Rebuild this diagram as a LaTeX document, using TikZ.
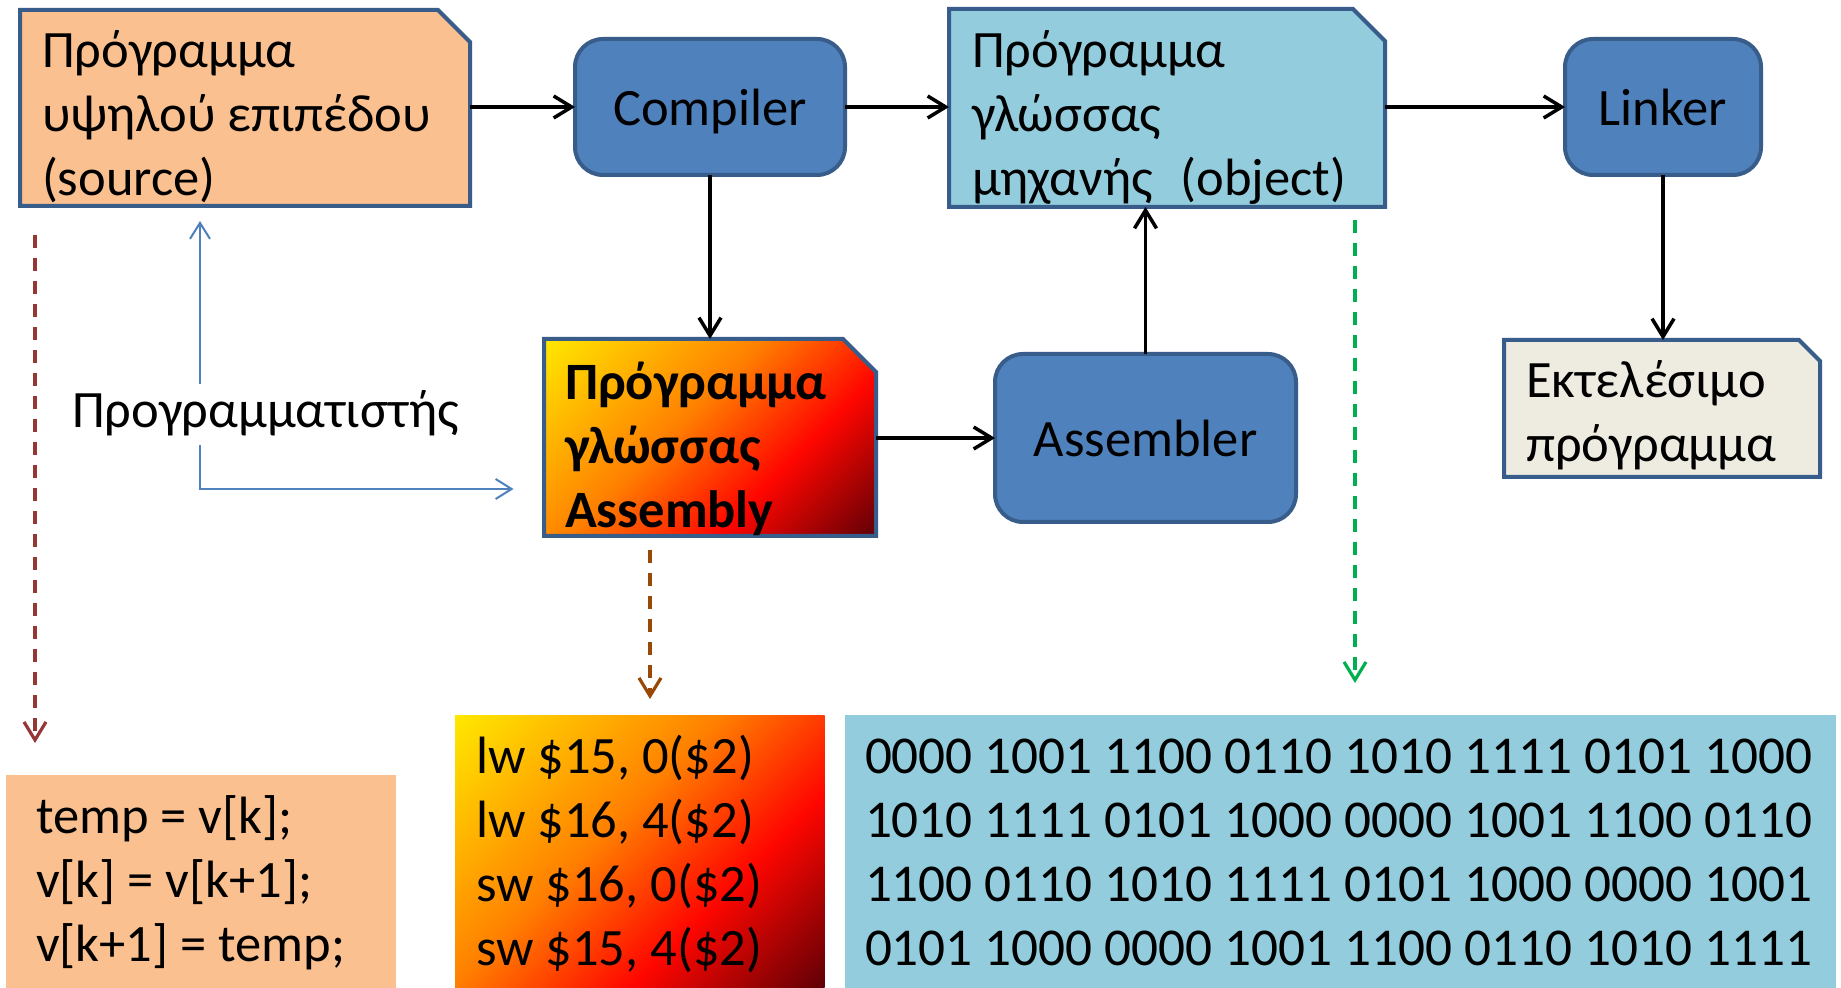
\documentclass[tikz,border=0pt]{standalone}
\usepackage{fontspec}
\setmainfont{Carlito}
\usetikzlibrary{arrows.meta}

% palette
\definecolor{boxline}{RGB}{56,93,138}
\definecolor{srcfill}{RGB}{250,192,143}
\definecolor{procfill}{RGB}{79,129,189}
\definecolor{objfill}{RGB}{147,205,221}
\definecolor{exefill}{RGB}{238,236,225}
\definecolor{hintblue}{RGB}{79,129,189}
\definecolor{guidered}{RGB}{149,55,53}
\definecolor{guidebrown}{RGB}{152,72,7}
\definecolor{guidegreen}{RGB}{0,176,80}
\definecolor{fireA}{RGB}{255,232,0}
\definecolor{fireB}{RGB}{255,128,0}
\definecolor{fireC}{RGB}{255,6,0}
\definecolor{fireD}{RGB}{96,0,6}

% diagonal "fire" gradient: corners of the filled box land on 14.6bp and 85.4bp
\pgfdeclarehorizontalshading{fire}{100bp}{color(0bp)=(fireA); color(14.6bp)=(fireA); color(44bp)=(fireB); color(64bp)=(fireC); color(85.4bp)=(fireD); color(100bp)=(fireD)}

% left-aligned text lines, baseline at the first line
\newcommand\boxlines[1]{\begin{tabular}[t]{@{}l@{}}#1\end{tabular}}
% document shape with a snipped top-right corner around node #1
\newcommand\snipbox[3]{\path[boxedge,#2] (#1.north west) -- ([xshift=-#3]#1.north east) -- ([yshift=-#3]#1.north east) -- (#1.south east) -- (#1.south west) -- cycle;}

\tikzset{
  boxedge/.style={draw=boxline, line width=2pt, line join=miter},
  slot/.style 2 args={rectangle, minimum width=#1, minimum height=#2},
  bodyfont/.style={font=\fontsize{26.25}{32}\selectfont},
  txt/.style={bodyfont, anchor=base west},
  procbox/.style={bodyfont, rectangle, rounded corners=14pt, draw=boxline, line width=2pt, fill=procfill, text depth=0pt},
  flow/.style={line width=1.75pt, -{Straight Barb[length=9pt,width=11pt]}},
  hint/.style={draw=hintblue, line width=1pt, -{Straight Barb[length=8pt,width=10pt]}},
  guide/.style={line width=1.6pt, dash pattern=on 6.5pt off 5pt, -{Straight Barb[length=9pt,width=11pt]}},
}

\begin{document}
\begin{tikzpicture}[x=0.5pt, y=-0.5pt, every node/.style={inner sep=0pt, outer sep=0pt}]
\useasboundingbox (0,0) rectangle (1841,988);
\fill[white] (0,0) rectangle (1841,988);

% ---- top row
\node[slot={225pt}{98pt}] (src) at (245,108) {};
\snipbox{src}{fill=srcfill}{16pt}
\node[txt] (srctext) at (42,68) {\boxlines{Πρόγραμμα\\υψηλού επιπέδου\\(source)}};

\node[procbox, minimum width=135pt, minimum height=68pt] (comp) at (710,107) {Compiler};

\node[slot={218pt}{99pt}] (obj) at (1167,108) {};
\snipbox{obj}{fill=objfill}{16pt}
\node[txt] (objtext) at (972,68) {\boxlines{Πρόγραμμα\\γλώσσας\\μηχανής\hspace{14pt}(object)}};

\node[procbox, minimum width=98pt, minimum height=68pt] (link) at (1663,107) {Linker};

% ---- middle row
\node[slot={166pt}{98.5pt}] (asm) at (710,437.5) {};
\snipbox{asm}{shade, shading=fire, shading angle=-45}{16.5pt}
\node[txt, font=\fontsize{26.25}{32}\selectfont\bfseries] (asmtext) at (565,400) {\boxlines{Πρόγραμμα\\γλώσσας\\Assembly}};

\node[procbox, minimum width=150.5pt, minimum height=84pt] (asmb) at (1145.5,438) {Assembler};

\node[slot={158pt}{68.5pt}] (exe) at (1662,408.5) {};
\snipbox{exe}{fill=exefill}{10.5pt}
\node[txt] (exetext) at (1526,398) {\boxlines{Εκτελέσιμο\\πρόγραμμα}};

\node[txt] (dev) at (72,428) {Προγραμματιστής};

% ---- bottom row
\node[slot={195pt}{106.5pt}, fill=srcfill] (code) at (201,881.5) {};
\node[txt] (codetext) at (36,833) {\boxlines{temp = v[k];\\v[k] = v[k+1];\\v[k+1] = temp;}};

\node[slot={184.75pt}{136.5pt}, shade, shading=fire, shading angle=-45] (asmc) at (639.75,851.5) {};
\node[txt] (asmctext) at (476,773) {\boxlines{lw \$15, 0(\$2)\\lw \$16, 4(\$2)\\sw \$16, 0(\$2)\\sw \$15, 4(\$2)}};

\node[slot={495.5pt}{136.5pt}, fill=objfill] (bin) at (1340.5,851.5) {};
\node[txt, font=\fontsize{26.6}{32}\selectfont] (bintext) at (865,773) {\boxlines{0000 1001 1100 0110 1010 1111 0101 1000\\1010 1111 0101 1000 0000 1001 1100 0110\\1100 0110 1010 1111 0101 1000 0000 1001\\0101 1000 0000 1001 1100 0110 1010 1111}};

% ---- main flow
\draw[flow] (src.east |- comp.west) -- (comp.west);
\draw[flow] (comp.east) -- (comp.east -| obj.west);
\draw[flow] (obj.east |- link.west) -- (link.west);
\draw[flow] (comp.south) -- (comp.south |- asm.north);
\draw[flow] (asm.east |- asmb.west) -- (asmb.west);
\draw[flow] (asmb.north) -- (asmb.north |- obj.south);
\draw[flow] (link.south) -- (link.south |- exe.north);

% ---- programmer writes source or assembly
\coordinate (hup) at (200,384);
\coordinate (hdown) at (200,445);
\coordinate (hknee) at (200,489);
\draw[hint, shorten >=7.5pt] (hup) -- (hup |- src.south);
\draw[hint, shorten >=15.25pt] (hdown) -- (hknee) -- (hknee -| asm.west);

% ---- example callouts
\coordinate (rtop) at ([xshift=7.5pt]src.south west);
\draw[guide, draw=guidered, shorten <=14.5pt, shorten >=16pt] (rtop) -- (rtop |- code.north);
\coordinate (btop) at ([xshift=53pt]asm.south west);
\draw[guide, draw=guidebrown, shorten <=7pt, shorten >=8pt] (btop) -- (btop |- asmc.north);
\coordinate (gtop) at ([xshift=-15pt]obj.south east);
\draw[guide, draw=guidegreen, shorten <=6.5pt, shorten >=16pt] (gtop) -- (gtop |- bin.north);
\end{tikzpicture}
\end{document}
